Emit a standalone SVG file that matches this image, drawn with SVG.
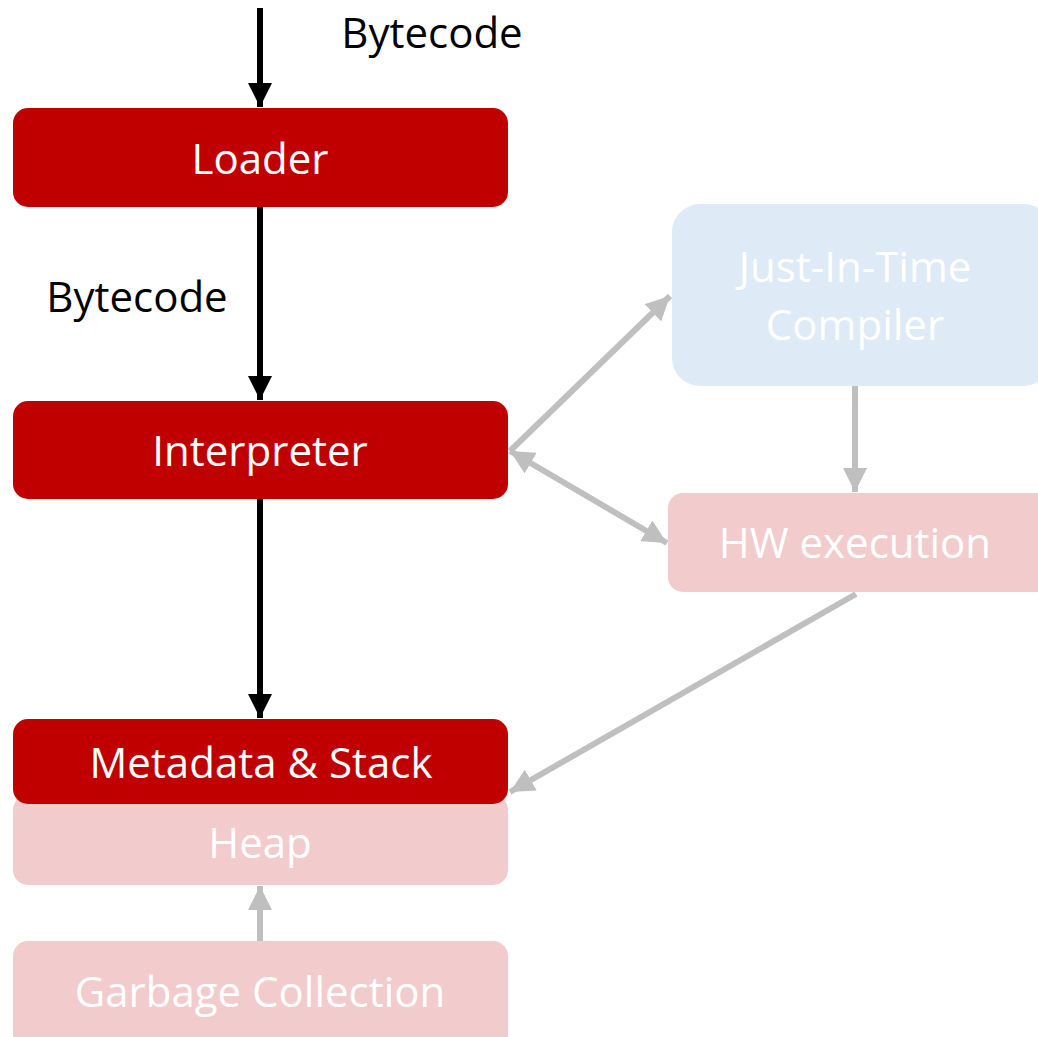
<svg xmlns="http://www.w3.org/2000/svg" width="1038" height="1037" viewBox="0 0 1038 1037">
<style>
  text { font-family: "Open Sans", "Noto Sans", "Liberation Sans", sans-serif; font-size: 42px; text-anchor: middle; }
  .w { fill: #FFFFFF; }
  .k { fill: #000000; }
  .red { fill: #C00000; }
  .pink { fill: #F2CBCC; }
  .blue { fill: #DEEAF6; }
  .blk { stroke: #000000; stroke-width: 6; fill: none; }
  .gry { stroke: #BFBFBF; stroke-width: 6; fill: none; }
</style>
<defs>
  <marker id="ab" viewBox="0 0 10 10" refX="10" refY="5" markerWidth="4" markerHeight="4" orient="auto" markerUnits="strokeWidth">
    <path d="M0,0 L10,5 L0,10 Z" fill="#000000"/>
  </marker>
  <marker id="ag" viewBox="0 0 10 10" refX="10" refY="5" markerWidth="4" markerHeight="4" orient="auto-start-reverse" markerUnits="strokeWidth">
    <path d="M0,0 L10,5 L0,10 Z" fill="#BFBFBF"/>
  </marker>
</defs>
<g id="connectors">
  <line class="blk" x1="260" y1="8" x2="260" y2="107" marker-end="url(#ab)"/>
  <line class="blk" x1="260" y1="207" x2="260" y2="400" marker-end="url(#ab)"/>
  <line class="blk" x1="260" y1="499" x2="260" y2="718" marker-end="url(#ab)"/>
  <line class="gry" x1="510" y1="451" x2="670" y2="296" marker-end="url(#ag)"/>
  <line class="gry" x1="510" y1="451" x2="667" y2="543" marker-start="url(#ag)" marker-end="url(#ag)"/>
  <line class="gry" x1="855" y1="386" x2="855" y2="492" marker-end="url(#ag)"/>
  <line class="gry" x1="856" y1="594" x2="510" y2="792" marker-end="url(#ag)"/>
  <line class="gry" x1="260" y1="941" x2="260" y2="886" marker-end="url(#ag)"/>
</g>
<g id="label-bytecode-top"><text class="k" x="432" y="48">Bytecode</text></g>
<g id="label-bytecode-mid"><text class="k" x="137" y="312">Bytecode</text></g>
<g id="loader">
  <rect class="red" x="13" y="108" width="495" height="99" rx="15"/>
  <text class="w" x="260" y="174">Loader</text>
</g>
<g id="interpreter">
  <rect class="red" x="13" y="401" width="495" height="98" rx="15"/>
  <text class="w" x="260" y="466">Interpreter</text>
</g>
<g id="jit">
  <rect class="blue" x="672" y="204" width="380" height="182" rx="28"/>
  <text class="w" x="855" y="282">Just-In-Time</text>
  <text class="w" x="855" y="340">Compiler</text>
</g>
<g id="hw">
  <rect class="pink" x="668" y="493" width="384" height="99" rx="15"/>
  <text class="w" x="855" y="558">HW execution</text>
</g>
<g id="heap">
  <rect class="pink" x="13" y="795" width="495" height="90" rx="15"/>
  <text class="w" x="260" y="858">Heap</text>
</g>
<g id="metadata">
  <rect class="red" x="13" y="719" width="495" height="85" rx="15"/>
  <text class="w" x="261" y="778">Metadata &amp; Stack</text>
</g>
<g id="gc">
  <rect class="pink" x="13" y="941" width="495" height="110" rx="15"/>
  <text class="w" x="260" y="1007">Garbage Collection</text>
</g>
</svg>
